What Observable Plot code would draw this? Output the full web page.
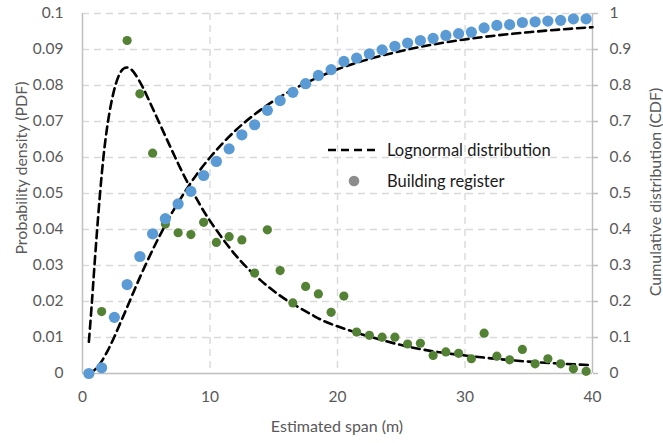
<!DOCTYPE html>
<html>
<head>
<meta charset="utf-8">
<script src="https://cdn.jsdelivr.net/npm/d3@7"></script>
<script src="https://cdn.jsdelivr.net/npm/@observablehq/plot@0.6"></script>
<style>
  body { margin: 0; background: #fff; }
  #wrap { position: relative; width: 663px; height: 443px; }
</style>
</head>
<body>
<div id="wrap"></div>
<script>
// ---- Data ----
const spans = [0.5,1.5,2.5,3.5,4.5,5.5,6.5,7.5,8.5,9.5,10.5,11.5,12.5,13.5,14.5,15.5,16.5,17.5,18.5,19.5,
               20.5,21.5,22.5,23.5,24.5,25.5,26.5,27.5,28.5,29.5,30.5,31.5,32.5,33.5,34.5,35.5,36.5,37.5,38.5,39.5];
const registerPdf = [0,0.0172,0.0155,0.0925,0.0777,0.0612,0.0415,0.0391,0.0386,0.0420,
                     0.0364,0.0380,0.0371,0.0279,0.0399,0.0286,0.0196,0.0242,0.0221,0.0170,
                     0.0215,0.0115,0.0106,0.0101,0.0101,0.0082,0.0084,0.0050,0.0060,0.0056,
                     0.0041,0.0112,0.0048,0.0038,0.0067,0.0027,0.0041,0.0027,0.0013,0.0006];
const registerCdf = [0,0.016,0.156,0.247,0.325,0.388,0.430,0.471,0.506,0.550,
                     0.589,0.624,0.663,0.691,0.731,0.758,0.781,0.805,0.828,0.844,
                     0.867,0.876,0.888,0.899,0.909,0.918,0.925,0.931,0.939,0.944,
                     0.948,0.960,0.967,0.969,0.975,0.977,0.979,0.981,0.985,0.985];
const fitSpan = [0.5,0.75,1,1.5,2,2.5,3,3.5,4,4.5,5,6,7,8,9,10,12,14,16,18,20,25,30,35,40];
const fitPdf  = [0.0088,0.0204,0.0330,0.0550,0.0700,0.0790,0.0838,0.0850,0.0838,0.0810,0.0775,0.0698,0.0621,
                 0.0547,0.0482,0.0424,0.0329,0.0258,0.0204,0.0163,0.0131,0.0079,0.0050,0.0033,0.0023];
const fitCdf  = [0.0012,0.0048,0.0115,0.0336,0.065,0.102,0.143,0.184,0.226,0.267,0.306,0.379,0.445,
                 0.503,0.555,0.600,0.675,0.733,0.779,0.815,0.845,0.896,0.928,0.948,0.962];
const xTicks   = [0,10,20,30,40];
const pdfTicks = [0,0.01,0.02,0.03,0.04,0.05,0.06,0.07,0.08,0.09,0.1];
const cdfTicks = [0,0.1,0.2,0.3,0.4,0.5,0.6,0.7,0.8,0.9,1];
const legendLabels = ["Lognormal distribution", "Building register"];
const titles = {x: "Estimated span (m)", yLeft: "Probability density (PDF)", yRight: "Cumulative distribution (CDF)"};

// tables built from the arrays (CDF drawn on the PDF scale, ×0.1)
const register = spans.map((s, i) => ({s, pdf: registerPdf[i], cdf: registerCdf[i] / 10}));
const fit = fitSpan.map((s, i) => ({s, pdf: fitPdf[i], cdf: fitCdf[i] / 10}));

const FONT = "Lato, 'Open Sans', sans-serif";
const axisGray = "#bfbfbf";
const gridGray = "#d9d9d9";
const textGray = "#595959";

const plot = Plot.plot({
  width: 663,
  height: 443,
  marginLeft: 82,
  marginRight: 71,
  marginTop: 13,
  marginBottom: 70,
  style: {fontFamily: FONT, background: "#fff"},
  x: {domain: [0, 40]},
  y: {domain: [0, 0.1]},
  marks: [
    Plot.gridY(pdfTicks.slice(1), {stroke: gridGray, strokeOpacity: 1, strokeWidth: 1.4, strokeDasharray: "7,5"}),
    Plot.gridX(xTicks.slice(1, -1), {stroke: gridGray, strokeOpacity: 1, strokeWidth: 1.4, strokeDasharray: "7,5"}),
    Plot.ruleX([0, 40], {stroke: axisGray, strokeWidth: 1.5}),
    Plot.ruleY([0], {stroke: axisGray, strokeWidth: 1.5}),
    Plot.axisX(xTicks, {tickSize: 0, tickPadding: 17, fontSize: 15.5, fill: textGray, label: null}),
    Plot.axisY(pdfTicks, {anchor: "left", tickSize: 0, tickPadding: 19, fontSize: 15.5, fill: textGray,
      tickFormat: d => d3.format("~g")(+d.toFixed(3)), label: null}),
    Plot.axisY(cdfTicks.map(d => d / 10), {anchor: "right", tickSize: 5, tickPadding: 12, fontSize: 15.5,
      fill: textGray, stroke: axisGray, strokeWidth: 1.5,
      tickFormat: d => d3.format("~g")(+(d * 10).toFixed(2)), label: null}),
    Plot.line(fit, {x: "s", y: "pdf", stroke: "#000", strokeWidth: 2.6, strokeDasharray: "8,5", curve: "natural"}),
    Plot.line(fit, {x: "s", y: "cdf", stroke: "#000", strokeWidth: 2.6, strokeDasharray: "8,5", curve: "monotone-x"}),
    Plot.dot(register, {x: "s", y: "pdf", r: 4.6, fill: "#548235", stroke: "none"}),
    Plot.dot(register, {x: "s", y: "cdf", r: 5.6, fill: "#5b9bd5", stroke: "none"})
  ]
});

document.getElementById("wrap").appendChild(plot);

// Axis titles and legend (non-data annotations)
const svg = d3.select(plot);
const g = svg.append("g").attr("font-family", FONT);
g.append("text").attr("x", 337).attr("y", 425).attr("text-anchor", "middle").attr("dominant-baseline", "central")
  .attr("font-size", 16).attr("fill", textGray).text(titles.x);
g.append("text").attr("transform", "translate(20,168) rotate(-90)").attr("text-anchor", "middle")
  .attr("dominant-baseline", "central").attr("font-size", 16).attr("fill", textGray).text(titles.yLeft);
g.append("text").attr("transform", "translate(654,192) rotate(-90)").attr("text-anchor", "middle")
  .attr("dominant-baseline", "central").attr("font-size", 16).attr("fill", textGray).text(titles.yRight);

const lg = g.append("g");
lg.append("line").attr("x1", 328).attr("x2", 380).attr("y1", 150).attr("y2", 150)
  .attr("stroke", "#000").attr("stroke-width", 2.6).attr("stroke-dasharray", "8,5");
lg.append("text").attr("x", 387).attr("y", 150).attr("text-anchor", "start").attr("dominant-baseline", "central")
  .attr("font-size", 16.5).attr("fill", "#1a1a1a").text(legendLabels[0]);
lg.append("circle").attr("cx", 354).attr("cy", 181).attr("r", 5.3).attr("fill", "#8c8c8c");
lg.append("text").attr("x", 387).attr("y", 181).attr("text-anchor", "start").attr("dominant-baseline", "central")
  .attr("font-size", 16.5).attr("fill", "#1a1a1a").text(legendLabels[1]);
</script>
</body>
</html>
